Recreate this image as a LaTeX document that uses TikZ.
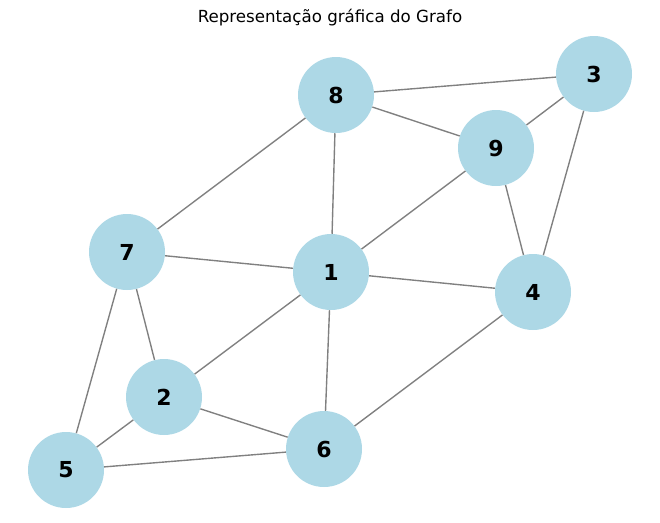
\documentclass[tikz,border=0pt]{standalone}
\usepackage{fontspec}
\setmainfont{DejaVu Sans}
\usepackage{xcolor}
\definecolor{graphblue}{RGB}{173, 216, 230}
\definecolor{graphgray}{RGB}{128, 128, 128}

\begin{document}
\begin{tikzpicture}[
      x=0.75pt, y=-0.75pt,
      vtx/.style={circle, fill=graphblue, minimum size=57pt, inner sep=0pt, font=\fontsize{16.5}{18}\selectfont\bfseries},
      edge/.style={draw=graphgray, line width=1.04pt}
    ]
      \useasboundingbox (0,0) rectangle (660,522);
      \node[font=\fontsize{12.5}{14}\selectfont] (title) at (330,18) {Representação gráfica do Grafo};

      \node[vtx] (n8) at (336,95) {8};
      \node[vtx] (n3) at (594,74) {3};
      \node[vtx] (n9) at (496,148) {9};
      \node[vtx] (n7) at (127,252) {7};
      \node[vtx] (n1) at (331,272) {1};
      \node[vtx] (n4) at (533,292) {4};
      \node[vtx] (n2) at (164,397) {2};
      \node[vtx] (n5) at (66,470) {5};
      \node[vtx] (n6) at (324,449) {6};

      \draw[edge] (n8) -- (n3);
      \draw[edge] (n8) -- (n9);
      \draw[edge] (n8) -- (n7);
      \draw[edge] (n8) -- (n1);
      \draw[edge] (n3) -- (n9);
      \draw[edge] (n3) -- (n4);
      \draw[edge] (n9) -- (n1);
      \draw[edge] (n9) -- (n4);
      \draw[edge] (n7) -- (n1);
      \draw[edge] (n7) -- (n2);
      \draw[edge] (n7) -- (n5);
      \draw[edge] (n1) -- (n4);
      \draw[edge] (n1) -- (n2);
      \draw[edge] (n1) -- (n6);
      \draw[edge] (n4) -- (n6);
      \draw[edge] (n2) -- (n5);
      \draw[edge] (n2) -- (n6);
      \draw[edge] (n5) -- (n6);
    \end{tikzpicture}
\end{document}
